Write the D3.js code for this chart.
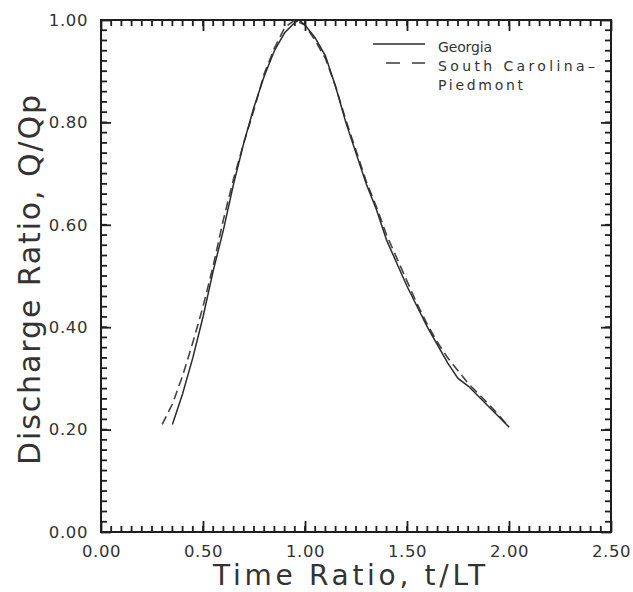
<!DOCTYPE html>
<html>
<head>
<meta charset="utf-8">
<script src="https://cdn.jsdelivr.net/npm/d3@7"></script>
<style>
  html, body { margin: 0; padding: 0; background: #fff; }
  svg { display: block; }
  text { font-family: "DejaVu Sans", sans-serif; fill: #333; }
</style>
</head>
<body>
<svg id="chart" width="633" height="592"></svg>
<script>
// Dimensionless hydrographs: time ratio t/LT vs discharge ratio Q/Qp
const georgiaT = [0.35, 0.40, 0.45, 0.50, 0.55, 0.60, 0.65, 0.70, 0.75, 0.80, 0.85, 0.90, 0.95, 0.97,
                  1.00, 1.05, 1.10, 1.15, 1.20, 1.25, 1.30, 1.35, 1.40, 1.45, 1.50, 1.55, 1.60,
                  1.65, 1.70, 1.75, 1.80, 1.85, 1.90, 1.95, 2.00];
const georgiaQ = [0.21, 0.27, 0.34, 0.42, 0.51, 0.59, 0.68, 0.76, 0.83, 0.89, 0.94, 0.975, 0.995, 1.00,
                  0.99, 0.965, 0.93, 0.87, 0.80, 0.74, 0.68, 0.63, 0.57, 0.525, 0.48, 0.44, 0.40,
                  0.365, 0.33, 0.30, 0.285, 0.265, 0.245, 0.225, 0.205];

const carolinaT = [0.30, 0.35, 0.40, 0.45, 0.50, 0.55, 0.60, 0.65, 0.70, 0.75, 0.80, 0.85, 0.90, 0.95,
                   1.00, 1.05, 1.10, 1.15, 1.20, 1.25, 1.30, 1.35, 1.40, 1.45, 1.50, 1.55, 1.60,
                   1.65, 1.70, 1.75, 1.80, 1.85, 1.90, 1.95, 2.00];
const carolinaQ = [0.21, 0.25, 0.305, 0.37, 0.44, 0.52, 0.61, 0.69, 0.76, 0.825, 0.895, 0.945, 0.985, 1.00,
                   0.99, 0.96, 0.925, 0.87, 0.805, 0.745, 0.685, 0.635, 0.58, 0.535, 0.49, 0.445, 0.405,
                   0.37, 0.34, 0.315, 0.29, 0.27, 0.25, 0.228, 0.205];

const xMajorTicks = [0, 0.5, 1.0, 1.5, 2.0, 2.5];
const yMajorTicks = [0, 0.2, 0.4, 0.6, 0.8, 1.0];
const xMinorStep = 0.05;
const yMinorStep = 0.02;

const seriesNames = ["Georgia", "South Carolina\u2013", "Piedmont"];
const xTitle = "Time Ratio, t/LT";
const yTitle = "Discharge Ratio, Q/Qp";

const svg = d3.select("#chart");
const plotLeft = 101, plotRight = 611, plotTop = 20, plotBottom = 532;

const x = d3.scaleLinear().domain([0, 2.5]).range([plotLeft, plotRight]);
const y = d3.scaleLinear().domain([0, 1]).range([plotBottom, plotTop]);

const xMinor = d3.range(0, 2.5 + 1e-9, xMinorStep).map(v => +v.toFixed(2));
const yMinor = d3.range(0, 1 + 1e-9, yMinorStep).map(v => +v.toFixed(2));
const fmt = d3.format(".2f");

// minor ticks, pointing inward on all four sides
const tickColor = "#1e1e1e";
const minor = svg.append("g").attr("stroke", tickColor).attr("stroke-width", 1.8);
minor.selectAll("line.xb").data(xMinor).join("line").attr("class", "xb")
  .attr("x1", d => x(d)).attr("x2", d => x(d))
  .attr("y1", plotBottom).attr("y2", plotBottom - 6);
minor.selectAll("line.xt").data(xMinor).join("line").attr("class", "xt")
  .attr("x1", d => x(d)).attr("x2", d => x(d))
  .attr("y1", plotTop).attr("y2", plotTop + 6);
minor.selectAll("line.yl").data(yMinor).join("line").attr("class", "yl")
  .attr("y1", d => y(d)).attr("y2", d => y(d))
  .attr("x1", plotLeft).attr("x2", plotLeft + 6);
minor.selectAll("line.yr").data(yMinor).join("line").attr("class", "yr")
  .attr("y1", d => y(d)).attr("y2", d => y(d))
  .attr("x1", plotRight).attr("x2", plotRight - 6);

function styleAxis(g) {
  g.select(".domain").remove();
  g.selectAll(".tick line").attr("stroke", tickColor).attr("stroke-width", 1.8);
}

// major ticks with labels
const xAxis = svg.append("g").attr("transform", `translate(0,${plotBottom})`)
  .call(d3.axisBottom(x).tickValues(xMajorTicks).tickSize(-11).tickPadding(13).tickFormat(fmt))
  .call(styleAxis);
svg.append("g").attr("transform", `translate(0,${plotTop})`)
  .call(d3.axisTop(x).tickValues(xMajorTicks).tickSize(-11).tickFormat(""))
  .call(styleAxis);
const yAxis = svg.append("g").attr("transform", `translate(${plotLeft},0)`)
  .call(d3.axisLeft(y).tickValues(yMajorTicks).tickSize(-10).tickPadding(13).tickFormat(fmt))
  .call(styleAxis);
svg.append("g").attr("transform", `translate(${plotRight},0)`)
  .call(d3.axisRight(y).tickValues(yMajorTicks).tickSize(-10).tickFormat(""))
  .call(styleAxis);

[xAxis, yAxis].forEach(g => g.selectAll(".tick text")
  .attr("font-family", "DejaVu Sans, sans-serif")
  .attr("font-size", 16.5)
  .attr("letter-spacing", 0.6)
  .attr("fill", "#333"));

// plot frame
svg.append("rect")
  .attr("x", plotLeft).attr("y", plotTop)
  .attr("width", plotRight - plotLeft).attr("height", plotBottom - plotTop)
  .attr("fill", "none").attr("stroke", "#1e1e1e").attr("stroke-width", 2);

// hydrograph curves
const line = d3.line().x(d => x(d[0])).y(d => y(d[1]));
const georgia = georgiaT.map((t, i) => [t, georgiaQ[i]]);
const carolina = carolinaT.map((t, i) => [t, carolinaQ[i]]);

svg.append("path").datum(carolina)
  .attr("d", line).attr("fill", "none")
  .attr("stroke", "#444").attr("stroke-width", 1.6)
  .attr("stroke-dasharray", "9,5");
svg.append("path").datum(georgia)
  .attr("d", line).attr("fill", "none")
  .attr("stroke", "#2a2a2a").attr("stroke-width", 1.5);

// legend
const legend = svg.append("g");
legend.append("line").attr("x1", 373).attr("x2", 425).attr("y1", 44).attr("y2", 44)
  .attr("stroke", "#2a2a2a").attr("stroke-width", 1.5);
legend.append("line").attr("x1", 386).attr("x2", 400).attr("y1", 63).attr("y2", 63)
  .attr("stroke", "#444").attr("stroke-width", 1.6);
legend.append("line").attr("x1", 412).attr("x2", 425).attr("y1", 63).attr("y2", 63)
  .attr("stroke", "#444").attr("stroke-width", 1.6);
const legendWidths = [54, 157, 85];
seriesNames.forEach((s, i) => {
  legend.append("text")
    .attr("x", 438).attr("y", 52 + i * 19)
    .attr("font-size", 14)
    .attr("textLength", legendWidths[i]).attr("lengthAdjust", "spacing")
    .text(s);
});

// axis titles
svg.append("text")
  .attr("x", 349).attr("y", 585)
  .attr("text-anchor", "middle")
  .attr("font-size", 28)
  .attr("textLength", 272).attr("lengthAdjust", "spacing")
  .text(xTitle);
svg.append("text")
  .attr("transform", "translate(40,280) rotate(-90)")
  .attr("text-anchor", "middle")
  .attr("font-size", 30)
  .attr("textLength", 370).attr("lengthAdjust", "spacing")
  .text(yTitle);
</script>
</body>
</html>
